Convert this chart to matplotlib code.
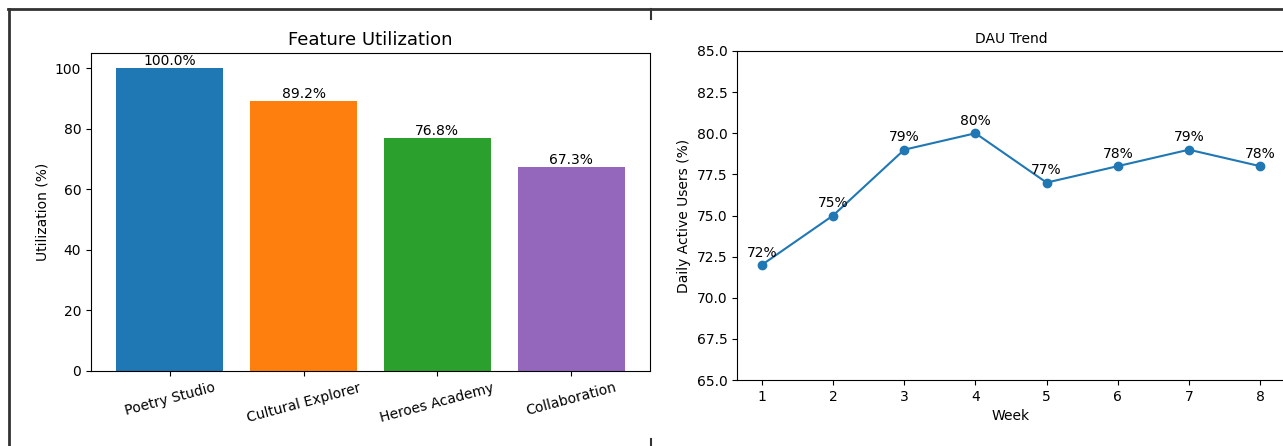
import matplotlib
matplotlib.use("Agg")
import matplotlib.pyplot as plt
from matplotlib.lines import Line2D

features = ["Poetry Studio", "Cultural Explorer", "Heroes Academy", "Collaboration"]
utilization = [100.0, 89.2, 76.8, 67.3]
bar_colors = ["#1f77b4", "#ff7f0e", "#2ca02c", "#9467bd"]

weeks = [1, 2, 3, 4, 5, 6, 7, 8]
dau = [72, 75, 79, 80, 77, 78, 79, 78]

W, H = 1283, 446
fig = plt.figure(figsize=(W / 100, H / 100), dpi=100)

def px_axes(x0, y0, x1, y1):
    # pixel box -> figure fraction (y measured from top)
    return fig.add_axes([x0 / W, 1 - y1 / H, (x1 - x0) / W, (y1 - y0) / H])

# left: bar chart
ax1 = px_axes(91, 53, 650, 371)
bars = ax1.bar(features, utilization, color=bar_colors)
for b, v in zip(bars, utilization):
    ax1.text(b.get_x() + b.get_width() / 2, b.get_height(), f"{v:.1f}%",
             ha="center", va="bottom", fontsize=10)
ax1.set_title("Feature Utilization", fontsize=13)
ax1.set_ylabel("Utilization (%)")
ax1.tick_params(axis="x", labelrotation=15)
for lbl in ax1.get_xticklabels():
    lbl.set_ha("center")

# right: DAU line
ax2 = px_axes(737, 51, 1285, 380)
ax2.plot(weeks, dau, marker="o", color="#1f77b4")
for w, v in zip(weeks, dau):
    ax2.annotate(f"{v}%", (w, v), textcoords="offset points", xytext=(0, 6),
                 ha="center", fontsize=10)
ax2.set_ylim(65, 85)
ax2.set_xticks(weeks)
ax2.set_title("DAU Trend", fontsize=10)
ax2.set_xlabel("Week")
ax2.set_ylabel("Daily Active Users (%)")

# page frame from the screenshot
def fig_line(xs, ys, lw=2.0):
    fig.add_artist(Line2D([x / W for x in xs], [1 - y / H for y in ys],
                          color="#333333", lw=lw, transform=fig.transFigure))

fig_line([8, W], [9, 9])
fig_line([9, 9], [9, H])
fig_line([651, 651], [9, 19], lw=1.5)
fig_line([651, 651], [439, H], lw=1.5)

fig.savefig("out.png", dpi=100)
